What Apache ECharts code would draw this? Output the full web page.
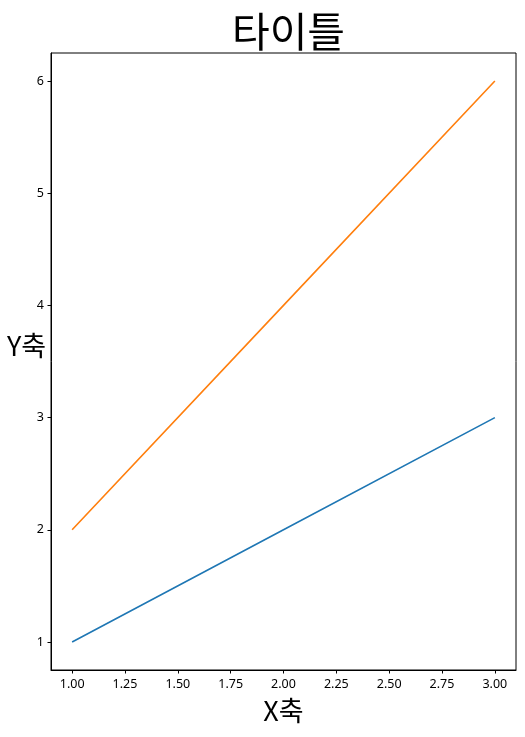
<!DOCTYPE html>
<html>
<head>
<meta charset="utf-8">
<script src="https://cdn.jsdelivr.net/npm/echarts@6/dist/echarts.min.js"></script>
<style>html,body{margin:0;padding:0;background:#fff}#c{width:525px;height:737px}</style>
</head>
<body>
<div id="c"></div>
<script>
const xValues = [1, 2, 3];
const series1 = [1, 2, 3];
const series2 = [2, 4, 6];
const xTicks = [1.0, 1.25, 1.5, 1.75, 2.0, 2.25, 2.5, 2.75, 3.0];
const yTicks = [1, 2, 3, 4, 5, 6];
const titleText = '타이틀';
const xName = 'X축';
const yName = 'Y축';

const FONT = 'Noto Sans CJK KR';
const TICKFONT = 'Noto Sans';
const chart = echarts.init(document.getElementById('c'), null, {renderer: 'canvas'});
chart.setOption({
  animation: false,
  backgroundColor: '#fff',
  title: {
    text: titleText, left: 283.5, textAlign: 'center', top: 6,
    textStyle: {fontFamily: FONT, fontSize: 41, fontWeight: 'normal', color: '#000'}
  },
  graphic: [{
    type: 'text', left: 7, top: 332,
    style: {text: yName, fontFamily: FONT, fontSize: 27, fill: '#000'}
  }],
  grid: {left: 51, right: 9, top: 53, bottom: 67, show: true, borderColor: '#000', borderWidth: 1,
    containLabel: false, outerBoundsMode: 'none'},
  xAxis: {
    type: 'value', min: 0.9, max: 3.1,
    name: xName, nameLocation: 'middle', nameGap: 27,
    nameTextStyle: {fontFamily: FONT, fontSize: 27, color: '#000'},
    axisLine: {show: true, onZero: false, lineStyle: {color: '#000', width: 1}},
    axisTick: {show: true, inside: false, length: 3.5, customValues: xTicks, lineStyle: {color: '#000'}},
    axisLabel: {customValues: xTicks, margin: 8, fontFamily: TICKFONT, fontSize: 12.5, color: '#000',
      formatter: v => v.toFixed(2)},
    splitLine: {show: false}
  },
  yAxis: {
    type: 'value', min: 0.75, max: 6.25,
    axisLine: {show: true, onZero: false, lineStyle: {color: '#000', width: 1}},
    axisTick: {show: true, inside: false, length: 3.5, customValues: yTicks, lineStyle: {color: '#000'}},
    axisLabel: {customValues: yTicks, margin: 7, fontFamily: TICKFONT, fontSize: 12.5, color: '#000'},
    splitLine: {show: false}
  },
  series: [
    {type: 'line', data: xValues.map((x, i) => [x, series1[i]]), symbol: 'none',
      lineStyle: {color: '#1f77b4', width: 1.6}, itemStyle: {color: '#1f77b4'}},
    {type: 'line', data: xValues.map((x, i) => [x, series2[i]]), symbol: 'none',
      lineStyle: {color: '#ff7f0e', width: 1.6}, itemStyle: {color: '#ff7f0e'}}
  ]
});
</script>
</body>
</html>
